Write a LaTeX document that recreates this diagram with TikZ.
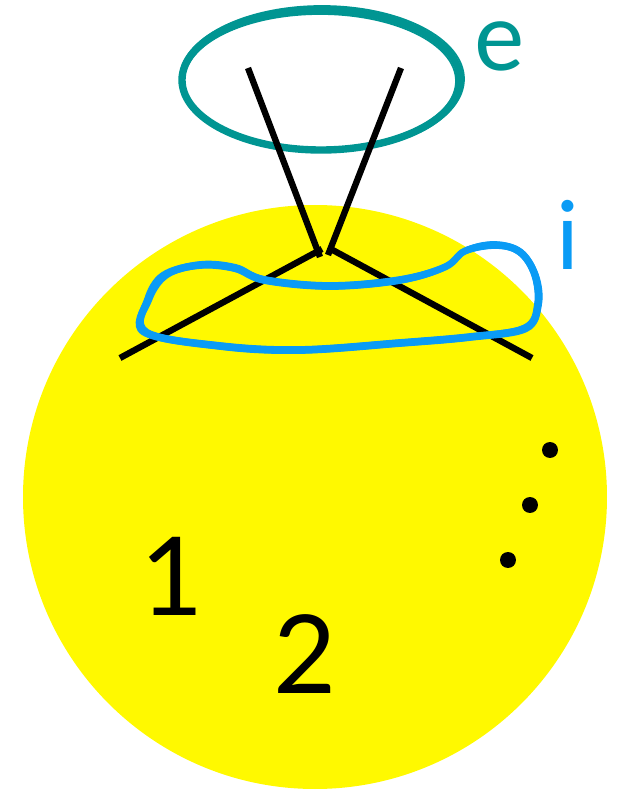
\documentclass[tikz,border=0pt]{standalone}
\usepackage{fontspec}
\setmainfont{Lato}
\usepackage{xcolor}
\usetikzlibrary{positioning}
\definecolor{ballc}{HTML}{FFF900}
\definecolor{outerc}{HTML}{009592}
\definecolor{innerc}{HTML}{0A9BF5}
\tikzset{
  legline/.style={draw=black, line width=3.6pt},
  outerring/.style={draw=outerc, line width=4.2pt},
  outerhair/.style={draw=outerc, line width=1pt},
  innerloop/.style={draw=innerc, line width=4pt},
  innerhair/.style={draw=innerc, line width=1pt},
  bigdigit/.style={font=\fontsize{62}{62}\selectfont, inner sep=0pt},
  ringlabel/.style={font=\fontsize{54}{54}\selectfont, inner sep=0pt},
  dotmark/.style={circle, fill=black, minimum size=0.32cm, inner sep=0pt},
}
\begin{document}
\begin{tikzpicture}[x=0.02cm, y=0.02cm]
  \useasboundingbox (0,0) rectangle (622,796);
  % blob
  \fill[ballc] (315,299) circle[radius=292];
  % outer ring
  \draw[outerring] (321,716) ellipse[x radius=139, y radius=70];
  \draw[outerhair] (322,717) ellipse[x radius=142, y radius=73];
  \draw[outerhair] (320,715) ellipse[x radius=136, y radius=67];
  % legs of the vertex
  \coordinate (vl) at (320,539);
  \coordinate (vr) at (328,541);
  \coordinate (vc) at (322,547);
  \coordinate (ul) at (248,728);
  \coordinate (ur) at (401,728);
  \coordinate (dl) at (120,438);
  \coordinate (dr) at (532,438);
  \draw[legline] (ul) -- (vl);
  \draw[legline] (ur) -- (vr);
  \draw[legline] (vc) -- (dl);
  \draw[legline] ([xshift=5]vc) -- (dr);
  % inner loop
  \draw[innerloop] plot[smooth cycle, tension=0.6] coordinates {
    (148,496) (165,521) (200,531) (235,528) (265,516) (330,510) (400,516)
    (445,529) (465,545) (495,551) (520,544) (535,521) (538,491) (525,468)
    (470,459) (400,453) (300,446) (220,450) (145,464)};
  \draw[innerhair] plot[smooth cycle, tension=0.6] coordinates {
    (145,497) (162,523) (200,534) (236,531) (265,519) (330,513) (400,519)
    (446,532) (466,548) (495,554) (522,546) (538,521) (541,491) (527,465)
    (470,456) (400,450) (300,443) (220,447) (142,462)};
  \draw[innerhair] plot[smooth cycle, tension=0.6] coordinates {
    (151,495) (168,519) (200,528) (234,525) (264,513) (330,507) (400,513)
    (444,526) (464,542) (495,548) (518,542) (532,521) (535,492) (523,470)
    (470,462) (400,456) (300,449) (220,453) (148,466)};
  % labels
  \node[ringlabel, text=outerc] (elab) at (500,750) {e};
  \node[ringlabel, text=innerc] (ilab) at (568,561) {i};
  \node[bigdigit] (one) at (172,220) {1};
  \node[bigdigit] (two) at (305,142) {2};
  % more
  \node[dotmark] (dota) at (550,346) {};
  \node[dotmark] (dotb) at (530,291) {};
  \node[dotmark] (dotc) at (508,236) {};
\end{tikzpicture}
\end{document}
